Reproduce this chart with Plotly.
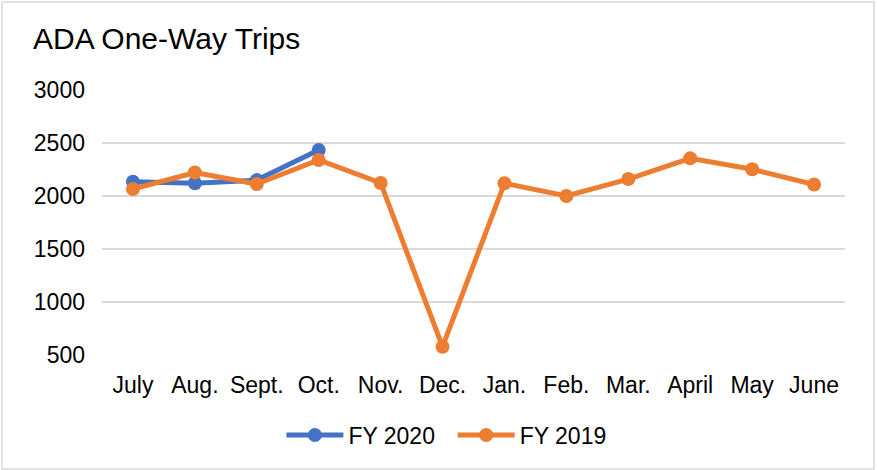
import plotly.graph_objects as go

months = ["July", "Aug.", "Sept.", "Oct.", "Nov.", "Dec.", "Jan.", "Feb.", "Mar.", "April", "May", "June"]
fy2020 = [2135, 2120, 2150, 2435]
fy2019 = [2066, 2222, 2113, 2340, 2123, 578, 2120, 2000, 2160, 2355, 2252, 2108]

BLUE = "#4472C4"
ORANGE = "#ED7D31"

fig = go.Figure()
# trailing nbsp widens the gap between the two legend items
fig.add_trace(go.Scatter(
    x=months[:len(fy2020)], y=fy2020, name="FY 2020\u00a0\u00a0", mode="lines+markers",
    line=dict(color=BLUE, width=5), marker=dict(color=BLUE, size=14)))
fig.add_trace(go.Scatter(
    x=months, y=fy2019, name="FY 2019", mode="lines+markers",
    line=dict(color=ORANGE, width=5), marker=dict(color=ORANGE, size=14)))

# outer chart border
fig.add_shape(type="rect", xref="paper", yref="paper",
              x0=-0.1346, x1=1.039, y0=-0.430, y1=1.332,
              line=dict(color="#D9D9D9", width=1.5), layer="below")

fig.update_xaxes(categoryorder="array", categoryarray=months,
                 range=[-0.5, len(months) - 0.5],
                 showgrid=False, zeroline=False, showline=False,
                 tickfont=dict(size=23, color="#000000"), ticklen=0,
                 ticklabelstandoff=14, automargin=False)
fig.update_yaxes(range=[500, 3000], dtick=500, showgrid=True,
                 gridcolor="#D9D9D9", gridwidth=1.5, zeroline=False,
                 showline=False, tickfont=dict(size=23, color="#000000"),
                 ticklen=0, ticklabelstandoff=16, automargin=False)

fig.update_layout(
    width=877, height=470,
    margin=dict(l=102, r=32, t=90, b=115),
    plot_bgcolor="white", paper_bgcolor="white",
    font=dict(family="Liberation Sans, Arial, sans-serif", color="#000000"),
    title=dict(text="ADA One-Way Trips", x=0.0376, xanchor="left",
               y=0.919, yanchor="middle", font=dict(size=30, color="#000000")),
    legend=dict(orientation="h", xref="container", yref="container",
                x=0.509, xanchor="center", y=0.0745, yanchor="middle",
                font=dict(size=23), itemwidth=57, traceorder="normal"),
)

fig.write_html("out.html", config={"displayModeBar": False},
               post_script="document.body.style.margin='0px';")
